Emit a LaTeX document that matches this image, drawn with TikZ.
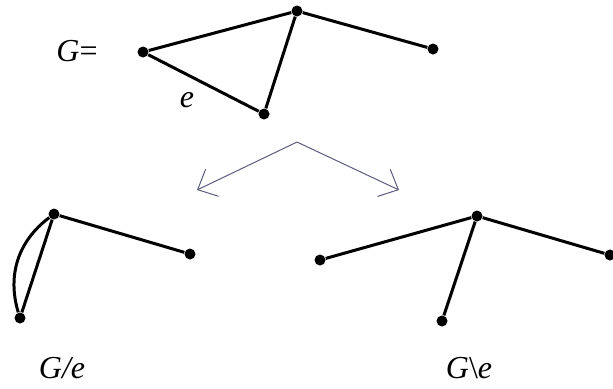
\documentclass[tikz,border=0pt]{standalone}
\usepackage{fontspec}
\setmainfont{Liberation Serif}
\usepackage{xcolor}
\usetikzlibrary{arrows.meta}
\definecolor{arrowslate}{HTML}{5A5A7E}
\tikzset{
  vertex/.style={circle,fill=black,draw=none,inner sep=0pt,minimum size=5.5pt},
  graphedge/.style={draw=black,line width=1.5pt},
  splitarrow/.style={-{Straight Barb[length=8pt,width=15pt]},draw=arrowslate,line width=0.5pt},
  glabel/.style={font=\fontsize{16}{18}\selectfont\itshape,inner sep=0pt},
}
\begin{document}
\begin{tikzpicture}[x=0.5pt,y=-0.5pt]
  \useasboundingbox (0,0) rectangle (613,388);
  % the graph G
  \node[glabel] (glab) at (77,51) {G\upshape=};
  \node[vertex] (a) at (143,52) {};
  \node[vertex] (b) at (297,11) {};
  \node[vertex] (c) at (264,114) {};
  \node[vertex] (d) at (433,49) {};
  \draw[graphedge] (a)--(b); \draw[graphedge] (a)--(c);
  \draw[graphedge] (b)--(c); \draw[graphedge] (b)--(d);
  \node[glabel] (elab) at (187,100) {e};
  % the two operations
  \coordinate (split) at (297,142);
  \coordinate (lefttip) at (197,190);
  \coordinate (righttip) at (399,190);
  \draw[splitarrow] (split)--(lefttip);
  \draw[splitarrow] (split)--(righttip);
  % contraction G/e
  \node[vertex] (p) at (54,214) {};
  \node[vertex] (q) at (20,318) {};
  \node[vertex] (r) at (190,254) {};
  \draw[graphedge] (p)--(r); \draw[graphedge] (p)--(q);
  \draw[graphedge] (p) to[bend right=35] (q);
  \node[glabel] (contlab) at (62,368) {G/e};
  % deletion G\e
  \node[vertex] (s) at (477,216) {};
  \node[vertex] (t) at (320,260) {};
  \node[vertex] (u) at (442,321) {};
  \node[vertex] (v) at (610,255) {};
  \draw[graphedge] (s)--(t); \draw[graphedge] (s)--(u);
  \draw[graphedge] (s)--(v);
  \node[glabel] (dellab) at (469,368) {G\upshape\textbackslash\itshape e};
\end{tikzpicture}
\end{document}
